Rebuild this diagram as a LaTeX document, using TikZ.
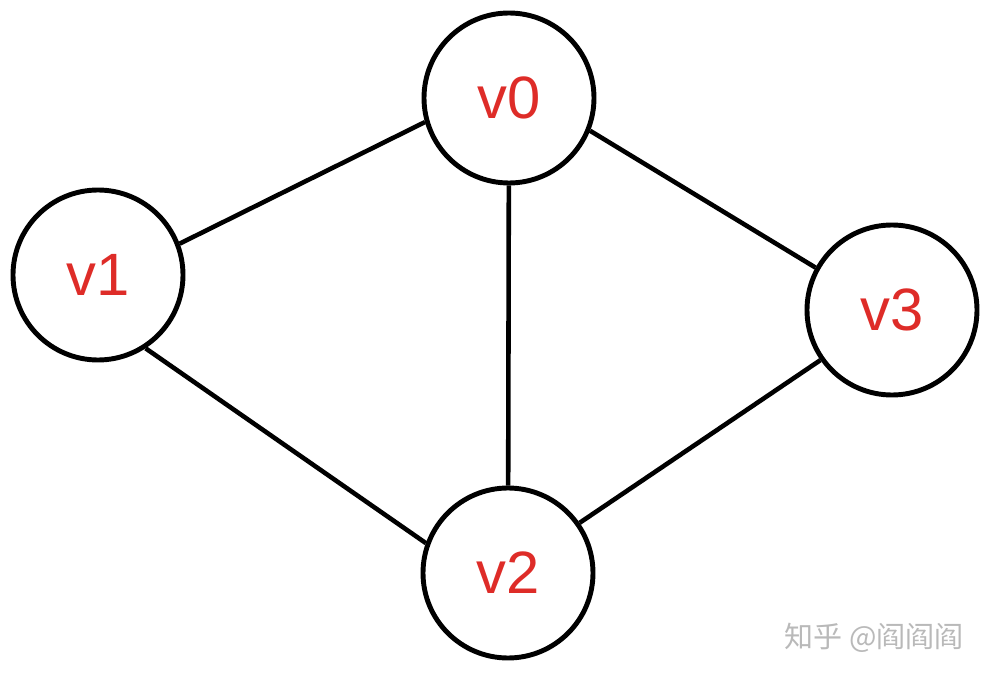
\documentclass[tikz,border=0pt]{standalone}
\usepackage{fontspec}
\setmainfont{Liberation Sans}
\newfontfamily\cjk{Noto Sans CJK SC}
\definecolor{vred}{RGB}{222,44,40}
\definecolor{wmgray}{RGB}{185,185,185}
\begin{document}
\begin{tikzpicture}
            \useasboundingbox (0,0) rectangle (19.88,-13.6);
            \tikzset{vertex/.style={shape=circle,draw=black,line width=2.8pt,minimum size=3.4cm,inner sep=0pt,text=vred,font=\fontsize{34}{40}\selectfont}}

            \node[vertex] (v0) at (10.18,-1.96) {v0};
            \node[vertex] (v1) at (1.96,-5.5) {v1};
            \node[vertex] (v2) at (10.16,-11.46) {v2};
            \node[vertex] (v3) at (17.84,-6.2) {v3};

            %archi
            \draw[-,line width=2.6pt] (v1.21) edge (v0.196);
            \draw[-,line width=2.6pt] (v0) edge (v2);
            \draw[-,line width=2.6pt] (v0.-22) edge (v3.151);
            \draw[-,line width=2.6pt] (v1.-57) edge (v2.160);
            \draw[-,line width=2.6pt] (v2.35) edge (v3.215);

            %watermark
            \node[text=wmgray,font=\cjk\fontsize{16.5}{20}\selectfont] (zhihu) at (17.48,-12.76) {知乎 @阎阎阎};
        \end{tikzpicture}
\end{document}
